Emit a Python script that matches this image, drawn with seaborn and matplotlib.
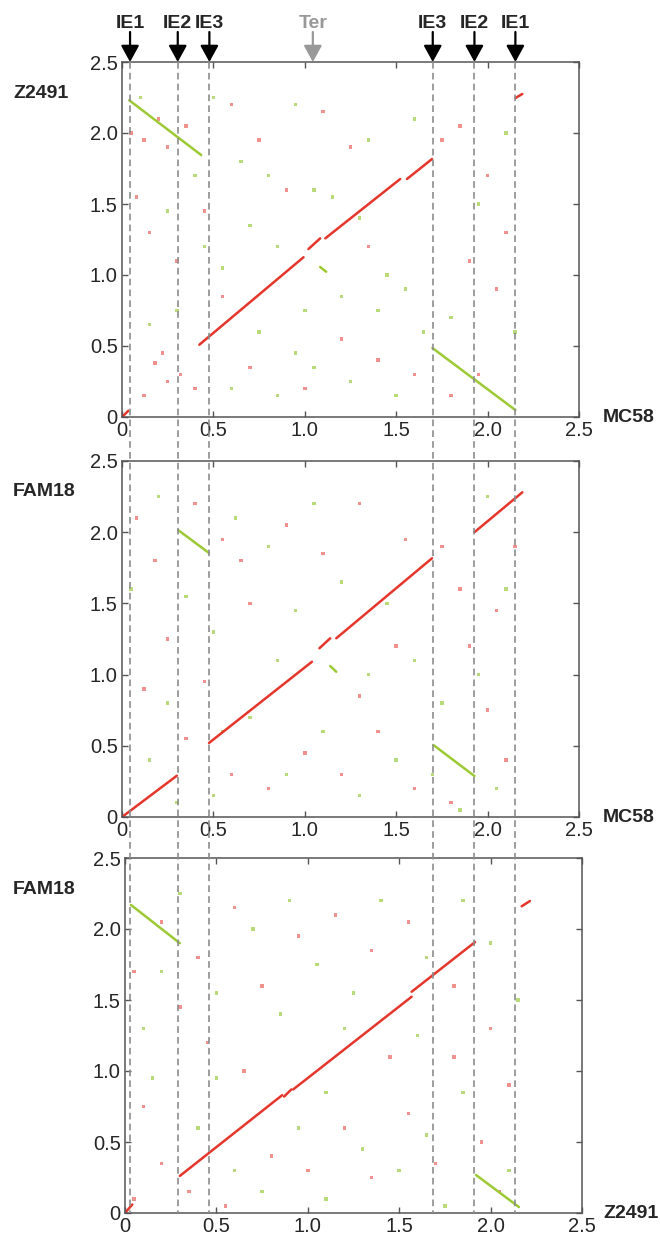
import pandas as pd
import matplotlib.pyplot as plt
import seaborn as sns

sns.set_style('white')
plt.rcParams['font.family'] = ['Liberation Sans', 'DejaVu Sans']

RED = '#e5362c'
GREEN = '#9cc934'
PALE_RED = '#f0918d'
PALE_GREEN = '#b9da78'

# 倒位边界 (MC58 坐标) 和标签
ie_x = [0.044, 0.305, 0.478, 1.70, 1.928, 2.152]
ie_labels = ['IE1', 'IE2', 'IE3', 'IE3', 'IE2', 'IE1']
ter_x = 1.044

ylabels = ['Z2491', 'FAM18', 'FAM18']
xlabels = ['MC58', 'MC58', 'Z2491']
ticks = [0, 0.5, 1.0, 1.5, 2.0, 2.5]
tick_labels = ['0', '0.5', '1.0', '1.5', '2.0', '2.5']

# 共线片段 (x0, y0, x1, y1)
p1_red = [(0.0, 0.0, 0.035, 0.044), (0.423, 0.509, 0.993, 1.125), (1.02, 1.183, 1.084, 1.258),
          (1.112, 1.258, 1.522, 1.676), (1.559, 1.676, 1.696, 1.817), (2.152, 2.246, 2.19, 2.275)]
p1_green = [(0.04, 2.23, 0.433, 1.845), (1.084, 1.056, 1.117, 1.023), (1.698, 0.486, 2.152, 0.049)]

p2_red = [(0.0, 0.0, 0.30, 0.29), (0.476, 0.52, 1.039, 1.09), (1.08, 1.185, 1.139, 1.255),
          (1.172, 1.255, 1.696, 1.817), (1.928, 2.0, 2.19, 2.28)]
p2_green = [(0.307, 2.015, 0.476, 1.854), (1.139, 1.06, 1.172, 1.02), (1.703, 0.506, 1.928, 0.288)]

p3_red = [(0.0, 0.0, 0.04, 0.06), (0.30, 0.261, 0.86, 0.83), (0.87, 0.82, 0.91, 0.87),
          (0.92, 0.87, 1.568, 1.523), (1.568, 1.558, 1.915, 1.908), (2.17, 2.16, 2.215, 2.197)]
p3_green = [(0.033, 2.169, 0.30, 1.90), (1.92, 0.268, 2.155, 0.042)]

# 背景散点 (x, y)
p1_noise_red = [(0.05, 2.0), (0.12, 1.95), (0.2, 2.1), (0.25, 1.9), (0.35, 2.05), (0.08, 1.55),
                (0.15, 1.3), (0.3, 1.1), (0.22, 0.45), (0.18, 0.38), (0.25, 0.25), (0.32, 0.3),
                (0.12, 0.15), (0.4, 0.2), (0.6, 2.2), (0.75, 1.95), (0.9, 1.6), (1.1, 2.15),
                (1.25, 1.9), (1.4, 0.4), (1.6, 0.3), (1.75, 1.95), (1.85, 2.05), (2.0, 1.7),
                (2.05, 0.9), (1.95, 0.3), (1.8, 0.15), (0.55, 0.85), (0.7, 0.35), (1.2, 0.55),
                (2.1, 1.3), (0.45, 1.45), (1.0, 0.2), (1.35, 1.2), (1.9, 1.1)]
p1_noise_green = [(0.1, 2.25), (0.5, 2.25), (0.65, 1.8), (0.8, 1.7), (0.95, 2.2), (1.05, 1.6),
                  (1.15, 1.55), (1.3, 1.4), (1.45, 1.0), (1.55, 0.9), (1.65, 0.6), (0.6, 0.2),
                  (0.85, 0.15), (1.05, 0.35), (1.25, 0.25), (1.5, 0.15), (0.75, 0.6), (0.95, 0.45),
                  (1.2, 0.85), (1.4, 0.75), (0.3, 0.75), (0.15, 0.65), (0.45, 1.2), (0.55, 1.05),
                  (0.7, 1.35), (1.8, 0.7), (1.95, 1.5), (2.1, 2.0), (2.15, 0.6), (1.6, 2.1),
                  (1.35, 1.95), (0.85, 1.2), (0.4, 1.7), (0.25, 1.45), (1.0, 0.75)]

p2_noise_red = [(0.08, 2.1), (0.18, 1.8), (0.4, 2.2), (0.55, 1.95), (0.7, 1.5), (0.9, 2.05),
                (1.1, 1.85), (1.3, 2.2), (1.55, 1.95), (1.75, 1.9), (1.85, 1.6), (2.05, 1.45),
                (2.15, 1.9), (0.12, 0.9), (0.25, 1.25), (0.45, 0.95), (0.6, 0.3), (0.8, 0.2),
                (1.0, 0.45), (1.2, 0.3), (1.4, 0.6), (1.6, 0.2), (1.8, 0.1), (2.0, 0.75),
                (2.1, 0.4), (0.35, 0.55), (1.5, 1.2), (1.3, 0.85), (0.65, 1.8), (1.9, 1.2)]
p2_noise_green = [(0.05, 1.6), (0.2, 2.25), (0.35, 1.55), (0.5, 1.3), (0.62, 2.1), (0.8, 1.9),
                  (0.95, 1.45), (1.05, 2.2), (1.2, 1.65), (1.45, 1.5), (1.6, 1.1), (1.75, 0.8),
                  (1.95, 1.0), (2.1, 1.6), (0.15, 0.4), (0.3, 0.1), (0.5, 0.15), (0.7, 0.7),
                  (0.9, 0.3), (1.1, 0.6), (1.3, 0.15), (1.5, 0.4), (1.7, 0.3), (1.85, 0.05),
                  (2.05, 0.2), (0.25, 0.8), (0.55, 0.6), (1.35, 1.0), (0.85, 1.1), (2.0, 2.25)]

p3_noise_red = [(0.05, 1.7), (0.2, 2.05), (0.4, 1.8), (0.6, 2.15), (0.75, 1.6), (0.95, 1.95),
                (1.15, 2.1), (1.35, 1.85), (1.55, 2.05), (1.8, 1.6), (2.0, 1.3), (2.1, 0.9),
                (0.1, 0.75), (0.2, 0.35), (0.35, 0.15), (0.55, 0.05), (0.8, 0.4), (1.0, 0.3),
                (1.2, 0.6), (1.35, 0.25), (1.55, 0.7), (1.7, 0.35), (1.95, 0.5), (2.05, 0.15),
                (0.45, 1.2), (0.65, 1.0), (0.3, 1.45), (1.8, 1.1), (1.45, 1.1), (0.05, 0.1)]
p3_noise_green = [(0.1, 1.3), (0.3, 2.25), (0.5, 1.55), (0.7, 2.0), (0.85, 1.4), (1.05, 1.75),
                  (1.25, 1.55), (1.4, 2.2), (1.65, 1.8), (1.85, 2.2), (2.15, 1.5), (0.15, 0.95),
                  (0.4, 0.6), (0.6, 0.3), (0.75, 0.15), (0.95, 0.6), (1.1, 0.1), (1.3, 0.45),
                  (1.5, 0.3), (1.65, 0.55), (1.85, 0.85), (2.1, 0.3), (0.5, 0.95), (1.1, 0.85),
                  (1.6, 1.25), (2.0, 1.9), (0.2, 1.7), (0.9, 2.2), (1.75, 0.05), (1.2, 1.3)]

panels = [
    (p1_red, p1_green, p1_noise_red, p1_noise_green),
    (p2_red, p2_green, p2_noise_red, p2_noise_green),
    (p3_red, p3_green, p3_noise_red, p3_noise_green),
]


def seg_frame(red, green):
    rows = []
    for kind, segs in (('red', red), ('green', green)):
        for i, (x0, y0, x1, y1) in enumerate(segs):
            rows.append({'x': x0, 'y': y0, 'seg': f'{kind}{i}', 'kind': kind})
            rows.append({'x': x1, 'y': y1, 'seg': f'{kind}{i}', 'kind': kind})
    return pd.DataFrame(rows)


def noise_frame(red, green):
    rows = [{'x': x, 'y': y, 'kind': 'red'} for x, y in red]
    rows += [{'x': x, 'y': y, 'kind': 'green'} for x, y in green]
    return pd.DataFrame(rows)


W, H = 660, 1235
fig = plt.figure(figsize=(W / 100, H / 100), dpi=100)

# 各面板像素位置 (left, top, right, bottom)
boxes = [(122, 62, 579, 417), (122, 461, 579, 817), (125, 858, 582, 1213)]

for k, (red, green, nred, ngreen) in enumerate(panels):
    l, t, r, b = boxes[k]
    ax = fig.add_axes([l / W, 1 - b / H, (r - l) / W, (b - t) / H])
    sns.scatterplot(data=noise_frame(nred, ngreen), x='x', y='y', hue='kind',
                    palette={'red': PALE_RED, 'green': PALE_GREEN}, marker='s', s=6,
                    linewidth=0, legend=False, ax=ax)
    sns.lineplot(data=seg_frame(red, green), x='x', y='y', units='seg', hue='kind',
                 estimator=None, sort=False, palette={'red': RED, 'green': GREEN},
                 linewidth=1.8, legend=False, ax=ax)
    ax.set_xlim(0, 2.5)
    ax.set_ylim(0, 2.5)
    ax.set_xticks(ticks)
    ax.set_yticks(ticks)
    ax.set_xticklabels(tick_labels)
    ax.set_yticklabels(tick_labels)
    ax.set_xlabel('')
    ax.set_ylabel('')
    ax.tick_params(direction='in', length=4, width=1, color='#555555', top=True, right=True,
                   bottom=True, left=True, labelsize=14.5, pad=3)
    ax.tick_params(axis='x', pad=3)
    for s in ax.spines.values():
        s.set_color('#555555')
        s.set_linewidth(1.1)
    # 面板标签
    fig.text(13 / W, 1 - (t + 31) / H, ylabels[k], ha='left', va='center',
             fontsize=14, fontweight='bold')
    fig.text(603 / W, 1 - (b + 1) / H, xlabels[k], ha='left', va='center',
             fontsize=14, fontweight='bold')

# 覆盖层: 贯穿三个面板的虚线和顶部箭头 (y 用像素坐标)
ov = fig.add_axes([122 / W, 1 - 1213 / H, 457 / W, (1213 - 62) / H])
ov.set_xlim(0, 2.5)
ov.set_ylim(1213, 62)
ov.axis('off')
ov.patch.set_alpha(0)
for x in ie_x:
    ov.plot([x, x], [62, 1213], color='#8c8c8c', lw=1.2, ls=(0, (4, 2.5)))
for x, lab in zip(ie_x, ie_labels):
    ov.annotate('', xy=(x, 62), xytext=(x, 32), annotation_clip=False,
                arrowprops=dict(arrowstyle='-|>,head_width=0.55,head_length=1.0',
                                color='black', lw=1.6, mutation_scale=10, shrinkA=0, shrinkB=0))
    ov.text(x, 23, lab, ha='center', va='center', fontsize=14, fontweight='bold', clip_on=False)
ov.annotate('', xy=(ter_x, 62), xytext=(ter_x, 32), annotation_clip=False,
            arrowprops=dict(arrowstyle='-|>,head_width=0.55,head_length=1.0',
                            color='#999999', lw=1.6, mutation_scale=10, shrinkA=0, shrinkB=0))
ov.text(ter_x, 23, 'Ter', ha='center', va='center', fontsize=14, fontweight='bold',
        color='#999999', clip_on=False)

fig.savefig('out.png', dpi=100)
plt.close(fig)
